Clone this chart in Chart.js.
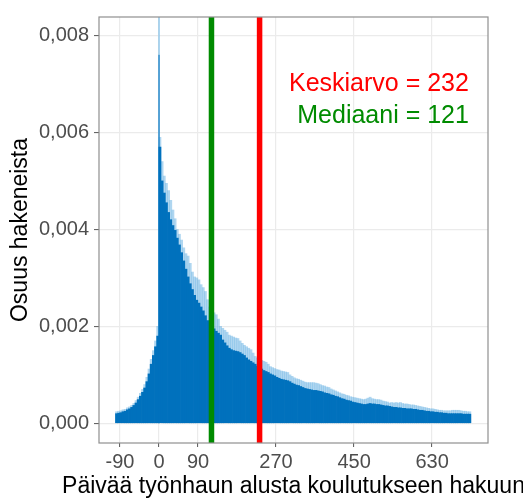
<!DOCTYPE html>
<html><head><meta charset="utf-8">
<script src="https://cdn.jsdelivr.net/npm/chart.js@4"></script>
<style>html,body{margin:0;padding:0;background:#fff}</style>
</head><body>
<canvas id="c" width="523" height="501"></canvas>
<script>
// ---- data ----
const firstBinDay = -100;   // first 5-day bin starts at day -100
const binWidthDays = 5;
// typical (dark) share of applicants per day, 5-day bins
const typicalShare = [
  0.00020,0.00021,0.00022,0.00024,0.00025,0.00028,0.00030,0.00033,0.00037,0.00042,
  0.00049,0.00056,0.00064,0.00073,0.00086,0.00102,0.00122,0.00140,0.00158,0.00180,
  0.00570,0.00500,0.00475,0.00455,0.00435,0.00420,0.00408,0.00398,0.00382,0.00368,
  0.00352,0.00335,0.00318,0.00302,0.00288,0.00276,0.00264,0.00254,0.00248,0.00240,
  0.00232,0.00222,0.00212,0.00205,0.00200,0.00195,0.00190,0.00186,0.00182,0.00172,
  0.00166,0.00160,0.00155,0.00152,0.00150,0.00149,0.00148,0.00146,0.00143,0.00140,
  0.00135,0.00131,0.00128,0.00125,0.00122,0.00118,0.00115,0.00112,0.00109,0.00107,
  0.00105,0.00102,0.00100,0.00098,0.00095,0.00093,0.00091,0.00090,0.00089,0.00088,
  0.00086,0.00083,0.00081,0.00079,0.00078,0.00076,0.00074,0.00072,0.00071,0.00070,
  0.00069,0.00068,0.00068,0.00067,0.00066,0.00065,0.00063,0.00062,0.00061,0.00059,
  0.00058,0.00056,0.00055,0.00053,0.00051,0.00050,0.00048,0.00047,0.00046,0.00044,
  0.00043,0.00042,0.00041,0.00040,0.00039,0.00039,0.00040,0.00041,0.00040,0.00040,
  0.00039,0.00039,0.00038,0.00037,0.00036,0.00036,0.00035,0.00034,0.00033,0.00033,
  0.00032,0.00032,0.00031,0.00031,0.00030,0.00030,0.00030,0.00029,0.00029,0.00028,
  0.00027,0.00027,0.00026,0.00025,0.00025,0.00024,0.00024,0.00023,0.00023,0.00022,
  0.00022,0.00021,0.00021,0.00020,0.00020,0.00020,0.00020,0.00020,0.00020,0.00020,
  0.00019,0.00019,0.00019,0.00019
];
// weekly peak (light) share per day, same bins
const peakShare = [
  0.00024,0.00025,0.00026,0.00028,0.00029,0.00032,0.00034,0.00037,0.00041,0.00047,
  0.00054,0.00062,0.00070,0.00080,0.00095,0.00112,0.00132,0.00150,0.00170,0.00200,
  0.00590,0.00540,0.00510,0.00495,0.00480,0.00460,0.00440,0.00422,0.00400,0.00390,
  0.00378,0.00362,0.00350,0.00345,0.00330,0.00312,0.00302,0.00300,0.00296,0.00286,
  0.00280,0.00272,0.00255,0.00240,0.00235,0.00228,0.00224,0.00215,0.00200,0.00196,
  0.00192,0.00188,0.00182,0.00180,0.00178,0.00176,0.00175,0.00170,0.00165,0.00161,
  0.00158,0.00155,0.00152,0.00145,0.00138,0.00135,0.00132,0.00130,0.00128,0.00126,
  0.00122,0.00117,0.00115,0.00113,0.00111,0.00110,0.00108,0.00107,0.00106,0.00105,
  0.00100,0.00097,0.00094,0.00092,0.00091,0.00089,0.00087,0.00085,0.00084,0.00084,
  0.00084,0.00084,0.00083,0.00082,0.00080,0.00078,0.00077,0.00075,0.00074,0.00071,
  0.00069,0.00067,0.00065,0.00063,0.00061,0.00060,0.00058,0.00057,0.00055,0.00054,
  0.00053,0.00052,0.00051,0.00050,0.00049,0.00050,0.00052,0.00054,0.00051,0.00050,
  0.00049,0.00049,0.00048,0.00046,0.00045,0.00044,0.00042,0.00043,0.00042,0.00043,
  0.00042,0.00043,0.00041,0.00040,0.00040,0.00039,0.00038,0.00038,0.00037,0.00036,
  0.00035,0.00034,0.00033,0.00032,0.00031,0.00030,0.00030,0.00029,0.00028,0.00027,
  0.00027,0.00026,0.00026,0.00026,0.00026,0.00027,0.00027,0.00027,0.00027,0.00026,
  0.00025,0.00025,0.00024,0.00024
];
const dayZeroPeak = 0.0086;   // single-day spike at day 0 (runs off the top)
const dayZeroCore = 0.0076;
const meanDays = 232;
const medianDays = 121;
const xTickValues = [-90, 0, 90, 270, 450, 630];
const yTickValues = [0, 0.002, 0.004, 0.006, 0.008];
const xLimits = [-138.5, 759];
const yLimits = [-0.000405, 0.00838];
const xTitle = 'Päivää työnhaun alusta koulutukseen hakuun';
const yTitle = 'Osuus hakeneista';
const annotationTexts = ['Keskiarvo = 232', 'Mediaani = 121'];
const annotationX = [715, 715];
const annotationY = [0.00699, 0.00633];

// ---- build ----
const FONT = '"Liberation Sans", Arial, sans-serif';
Chart.defaults.font.family = FONT;
const binCenters = typicalShare.map((_, i) => firstBinDay + i * binWidthDays + (binWidthDays - 1) / 2);
const darkPts = typicalShare.map((v, i) => ({x: binCenters[i], y: v}));
const lightPts = peakShare.map((v, i) => ({x: binCenters[i], y: v}));

const BLUE = '#0071BD';
const LIGHT = 'rgba(110,180,228,0.55)';
const RED = '#FF0000';
const GREEN = '#008B00';

const overlay = {
  id: 'overlay',
  afterDatasetsDraw(chart) {
    const {ctx, chartArea: a, scales: {x, y}} = chart;
    ctx.save();
    ctx.font = '25px ' + FONT;
    ctx.textAlign = 'right';
    ctx.textBaseline = 'middle';
    const cols = [RED, GREEN];
    annotationTexts.forEach((t, i) => {
      ctx.fillStyle = cols[i];
      ctx.fillText(t, x.getPixelForValue(annotationX[i]), y.getPixelForValue(annotationY[i]));
    });
    ctx.strokeStyle = '#8f8f8f';
    ctx.lineWidth = 1.2;
    ctx.strokeRect(a.left, a.top, a.right - a.left, a.bottom - a.top);
    // x-axis title (drawn without width compression)
    ctx.font = '23px ' + FONT;
    ctx.fillStyle = '#000';
    ctx.textAlign = 'center';
    ctx.fillText(xTitle, (a.left + a.right) / 2, chart.height - 14);
    ctx.restore();
  }
};

new Chart(document.getElementById('c'), {
  type: 'bar',
  data: {
    datasets: [
      {type: 'line', data: [{x: medianDays, y: yLimits[0]}, {x: medianDays, y: yLimits[1]}],
       borderColor: GREEN, borderWidth: 5.5, pointRadius: 0, order: 0},
      {type: 'line', data: [{x: meanDays, y: yLimits[0]}, {x: meanDays, y: yLimits[1]}],
       borderColor: RED, borderWidth: 5.5, pointRadius: 0, order: 0},
      {data: darkPts, backgroundColor: BLUE, borderWidth: 0, grouped: false,
       barPercentage: 1, categoryPercentage: 1, order: 1},
      {type: 'line', data: [{x: 0, y: 0}, {x: 0, y: dayZeroCore}],
       borderColor: BLUE, borderWidth: 1, pointRadius: 0, order: 2},
      {type: 'line', data: [{x: 0, y: 0}, {x: 0, y: dayZeroPeak}],
       borderColor: '#7fc0ea', borderWidth: 1.2, pointRadius: 0, order: 3},
      {data: lightPts, backgroundColor: LIGHT, borderWidth: 0, grouped: false,
       barPercentage: 1, categoryPercentage: 1, order: 4}
    ]
  },
  options: {
    responsive: false,
    animation: false,
    devicePixelRatio: 1,
    layout: {padding: {left: 0, right: 35, top: 9, bottom: 0}},
    plugins: {legend: {display: false}, tooltip: {enabled: false}},
    scales: {
      x: {
        type: 'linear', min: xLimits[0], max: xLimits[1], offset: false,
        afterBuildTicks: s => { s.ticks = xTickValues.map(v => ({value: v})); },
        afterFit: s => { s.height = 58; s.paddingLeft = 0; s.paddingRight = 0; },
        ticks: {font: {size: 20}, color: '#4D4D4D', padding: 3, maxRotation: 0, autoSkip: false,
                callback: v => String(v)},
        grid: {offset: false, color: '#EBEBEB', lineWidth: 1.2, tickLength: 4, tickColor: '#555', tickWidth: 1},
        border: {display: false},
        title: {display: false}
      },
      y: {
        min: yLimits[0], max: yLimits[1],
        afterBuildTicks: s => { s.ticks = yTickValues.map(v => ({value: v})); },
        afterFit: s => { s.width = 99; },
        ticks: {font: {size: 20}, color: '#4D4D4D', padding: 5,
                callback: v => v.toFixed(3).replace('.', ',')},
        grid: {color: '#EBEBEB', lineWidth: 1.2, tickLength: 5, tickColor: '#555', tickWidth: 1},
        border: {display: false},
        title: {display: true, text: yTitle, font: {size: 23}, color: '#000',
                padding: {top: 7, bottom: 0}}
      }
    }
  },
  plugins: [overlay]
});
</script>
</body></html>
